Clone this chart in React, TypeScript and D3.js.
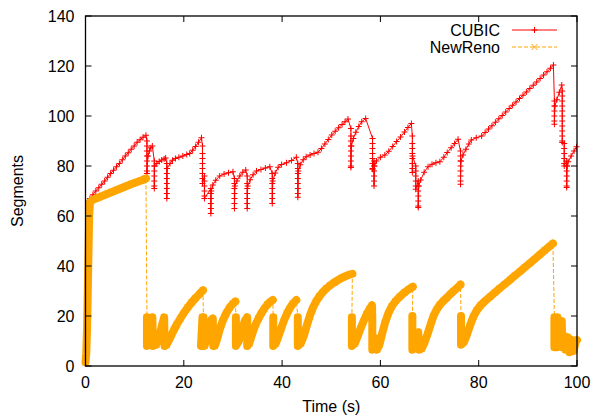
import React from 'react';
import * as d3 from 'd3';

const xTicks = [0, 20, 40, 60, 80, 100];
const yTicks = [0, 20, 40, 60, 80, 100, 120, 140];
const seriesNames = ['CUBIC', 'NewReno'];
const xLabel = 'Time (s)';
const yLabel = 'Segments';

// CUBIC congestion window samples [time (s), segments]
const cubicPoints: [number, number][] = [
  [0, 1], [0.1, 2], [0.2, 4], [0.3, 8], [0.4, 16], [0.5, 30], [0.6, 45], [0.7, 58], [0.8, 66],
  [0.9, 67], [1.5, 68.5], [2.1, 70], [2.7, 71.3], [3.3, 72.7], [3.9, 74], [4.5, 75.5], [5.1, 77],
  [5.7, 78.3], [6.3, 79.7], [6.9, 81], [7.5, 82.5], [8.1, 84], [8.7, 85.3], [9.3, 86.7], [9.9, 88],
  [10.5, 89.5], [11.1, 90.5], [11.7, 91.5], [12.3, 92.3],
  [12.5, 90], [12.5, 88], [12.5, 86], [12.5, 84], [12.5, 82], [12.5, 80], [12.5, 78], [12.5, 77],
  [12.7, 84], [13.0, 86], [13.3, 87.3], [13.6, 88],
  [14.0, 82], [14.0, 80], [14.0, 78], [14.0, 76], [14.0, 74], [14.0, 72], [14.0, 71], [14.05, 80],
  [14.5, 81], [15.0, 81.8], [15.5, 82.4], [16.0, 82.8], [16.3, 83.2],
  [16.55, 81], [16.55, 79], [16.55, 77], [16.55, 75], [16.55, 73], [16.55, 71], [16.55, 69], [16.55, 67], [16.6, 79],
  [17.2, 81], [17.7, 82.3], [18.3, 83], [19, 83.5], [19.8, 84], [20.6, 84.6], [21.2, 85], [21.8, 86.3],
  [22.4, 87.8], [23, 89.5], [23.6, 91.3],
  [23.8, 88], [23.8, 85], [23.8, 83], [23.8, 81], [23.8, 79], [23.8, 77], [23.8, 75], [23.8, 73],
  [24.2, 76], [24.2, 74], [24.2, 72], [24.2, 70], [24.2, 68], [24.2, 67],
  [25.5, 71], [25.5, 69], [25.5, 67], [25.5, 65], [25.5, 63], [25.5, 61], [25.6, 70],
  [25.9, 72.4], [26.5, 74.3], [27.3, 76], [28.2, 76.8], [29.1, 77.3], [30.0, 77.7],
  [30.3, 75], [30.3, 73], [30.3, 71], [30.3, 69], [30.3, 67], [30.3, 65], [30.3, 63], [30.4, 72],
  [30.8, 74], [31.4, 76], [32, 77.5], [32.6, 78.4],
  [32.9, 76], [32.9, 73], [32.9, 71], [32.9, 69], [32.9, 67], [32.9, 65], [32.9, 63], [33.0, 72],
  [33.5, 74.5], [34.1, 76.5], [34.8, 78], [35.7, 78.6], [36.6, 79.2], [37.5, 79.7],
  [38, 77], [38, 75], [38, 73], [38, 71], [38, 69], [38, 67], [38, 65], [38.1, 74],
  [38.6, 77.2], [39.2, 79.5], [39.9, 80.6], [40.9, 81.3], [41.9, 82.2], [42.9, 83.5],
  [43.2, 81], [43.2, 79], [43.2, 77], [43.2, 75], [43.2, 73], [43.2, 71], [43.2, 69], [43.2, 67.5], [43.3, 78],
  [43.7, 80.5], [44.3, 82.5], [44.9, 83.7], [45.7, 84.4], [46.5, 85], [47.3, 85.5], [48.0, 87], [48.7, 88.8],
  [49.4, 90.6], [50.1, 92.4], [50.8, 93.9], [51.5, 95.3], [52.2, 96.6], [52.8, 97.7], [53.4, 98.8],
  [54, 95], [54, 92], [54, 90], [54, 88], [54, 86], [54, 84], [54, 82], [54, 80], [54, 79.4], [54.1, 88],
  [54.5, 91], [55, 93.5], [55.6, 95.8], [56.2, 97.7], [57, 99],
  [58.4, 91], [58.4, 89], [58.4, 87], [58.4, 85], [58.4, 83], [58.4, 81], [58.4, 79], [58.4, 78.7],
  [58.7, 82], [58.7, 80], [58.7, 78], [58.7, 76], [58.7, 74], [58.7, 72], [58.8, 80],
  [59.2, 82], [60, 83.5], [60.9, 84.4], [61.7, 85.9], [62.5, 87.8], [63.3, 89.8], [64.1, 91.6], [64.9, 93.6],
  [65.6, 95.4], [66.3, 97],
  [66.5, 92], [66.5, 89], [66.5, 87], [66.5, 85], [66.5, 83], [66.5, 81], [66.5, 79], [66.5, 77.4], [66.55, 84],
  [67.2, 80], [67.2, 78], [67.2, 76], [67.2, 74], [67.2, 72], [67.2, 70.7],
  [67.7, 74], [67.7, 72], [67.7, 70], [67.7, 68], [67.7, 66], [67.7, 64], [67.7, 63.4], [67.8, 72],
  [68.2, 74.4], [68.9, 77.5], [69.7, 79.7], [70.5, 80.7], [71.3, 81.3], [72.1, 81.7], [72.9, 83.5],
  [73.6, 85.4], [74.4, 87.3], [75.1, 89], [75.8, 90.7],
  [76.3, 86], [76.3, 84], [76.3, 82], [76.3, 80], [76.3, 78], [76.3, 76], [76.3, 74], [76.3, 72.7], [76.4, 82],
  [76.8, 84.4], [77.4, 86.7], [78, 88.8], [78.5, 90.4], [79.5, 91.3], [80.6, 92], [81.3, 93.4], [82, 94.8],
  [82.7, 96.1], [83.4, 97.5], [84.1, 98.9], [84.8, 100.2], [85.5, 101.6], [86.2, 103], [86.9, 104.3],
  [87.6, 105.6], [88.3, 107], [89, 108.3], [89.7, 109.6], [90.4, 111], [91.1, 112.3], [91.8, 113.6],
  [92.5, 115], [93.2, 116.4], [93.9, 117.7], [94.6, 119.1], [95.2, 120.4],
  [95.4, 106], [95.4, 104], [95.4, 102], [95.4, 100], [95.4, 98], [95.4, 96.7], [95.5, 104],
  [95.9, 106.5], [96.4, 109.5], [96.9, 112.4],
  [97.0, 110], [97.0, 108], [97.0, 106], [97.0, 104], [97.0, 102], [97.0, 100], [97.0, 98], [97.0, 96],
  [97.0, 94], [97.0, 92], [97.0, 90], [97.0, 89.4],
  [97.4, 89], [97.4, 87], [97.4, 85], [97.4, 83], [97.4, 81], [97.4, 80],
  [97.9, 82], [97.9, 80], [97.9, 78], [97.9, 76], [97.9, 74], [97.9, 72], [97.9, 71.4], [98.0, 80],
  [98.2, 81.7], [98.8, 84], [99.4, 86], [99.9, 87.7],
];

// NewReno congestion window samples, grouped into dense runs [time (s), segments]
const newRenoSegments: [number, number][][] = [
  [
    [0, 1.5], [0.15, 5], [0.3, 14], [0.45, 28], [0.6, 45], [0.75, 60], [0.9, 65.5], [1.5, 66.5],
    [2.5, 67.3], [3.5, 68.1], [4.5, 68.9], [5.5, 69.7], [6.5, 70.5], [7.5, 71.3], [8.5, 72.1],
    [9.5, 72.9], [10.5, 73.6], [11.5, 74.3], [12.3, 75],
  ],
  [
    [12.5, 19.5], [12.5, 8], [12.9, 11], [13.3, 16], [13.6, 19.5], [13.7, 8], [14.4, 8.5],
    [15.0, 12], [15.6, 16.5], [16.0, 19.5], [16.1, 8], [16.5, 8.5], [16.9, 10], [17.4, 12],
    [18, 14.5], [18.6, 16.7], [19.3, 19], [20, 21.2], [20.8, 23.4], [21.6, 25.4], [22.4, 27.2],
    [23.2, 28.8], [23.9, 30.3],
  ],
  [
    [24.0, 19.5], [23.5, 8], [23.8, 19.5], [24.2, 8], [24.9, 12.5], [25.6, 18.5], [25.9, 19],
    [26.0, 8], [26.3, 8], [26.8, 11], [27.3, 14.5], [27.9, 18], [28.6, 21], [29.3, 23.3],
    [30.0, 25], [30.5, 25.8],
  ],
  [
    [30.6, 19.5], [30.6, 8], [31.2, 10], [31.8, 14], [32.4, 18], [32.9, 19.5], [32.9, 8],
    [33.3, 9], [33.7, 11.5], [34.2, 14.5], [34.7, 17], [35.2, 19], [35.8, 21.2], [36.4, 23],
    [37.0, 24.6], [37.6, 25.7], [38.1, 26.4],
  ],
  [
    [38.2, 19.5], [38.2, 8], [38.7, 9], [39.2, 11.5], [39.8, 15], [40.4, 18.3], [41.0, 21],
    [41.6, 23.2], [42.2, 25], [42.9, 26.4],
  ],
  [
    [43.2, 19.5], [43.2, 8], [43.8, 9], [44.4, 12], [45.0, 16], [45.6, 19.8], [46.2, 23],
    [46.9, 25.8], [47.6, 27.9], [48.3, 29.6], [49.0, 31], [49.8, 32.3], [50.6, 33.4],
    [51.4, 34.4], [52.2, 35.3], [53.0, 36], [53.8, 36.6], [54.3, 36.9],
  ],
  [
    [54.2, 19.5], [54.2, 8], [54.8, 9], [55.4, 12], [56.0, 15.2], [56.6, 18], [57.2, 20.7],
    [57.8, 22.8], [58.3, 24.3], [58.35, 19], [58.35, 6.5], [58.9, 8.5], [59.2, 11], [59.3, 6.5],
    [59.8, 8.5], [60.3, 12.5], [60.9, 17], [61.6, 21], [62.3, 23.8], [63.1, 26], [64.0, 27.8],
    [64.9, 29.4], [65.8, 30.7], [66.6, 31.7],
  ],
  [
    [66.5, 20], [66.5, 6.5], [67.0, 8], [67.4, 11], [67.7, 13.5], [67.9, 6.5], [68.4, 7],
    [69.0, 9.5], [69.6, 12.8], [70.2, 16.5], [70.8, 20], [71.4, 22.4], [72.1, 24.5], [72.8, 26],
    [73.5, 27.3], [74.2, 28.7], [74.9, 30], [75.6, 31.2], [76.3, 32.6],
  ],
  [
    [76.4, 20], [76.4, 8.5], [77.0, 9.5], [77.6, 12.5], [78.2, 16], [78.9, 19.7], [79.6, 22.2],
    [80.4, 24.3], [81.3, 26], [82.3, 27.7], [83.3, 29.4], [84.3, 31.1], [85.3, 32.7], [86.4, 34.5],
    [87.4, 36.2], [88.4, 37.8], [89.4, 39.5], [90.4, 41.1], [91.4, 42.8], [92.4, 44.5],
    [93.4, 46.2], [94.3, 47.7], [95.1, 49],
  ],
  [
    [95.4, 19.5], [95.4, 7.5], [95.9, 7.5], [96.0, 19.5], [96.3, 8], [96.9, 18], [97.0, 7.5],
    [97.4, 12], [97.7, 6.5], [98.1, 11.5], [98.5, 5.5], [98.9, 10.5], [99.3, 6], [99.7, 9.5],
    [100, 10.4],
  ],
];

export default function App() {
  const W = 594;
  const H = 417;
  const left = 85.5, right = 577, top = 16, bottom = 366;
  const x = d3.scaleLinear().domain([0, 100]).range([left, right]);
  const y = d3.scaleLinear().domain([0, 140]).range([bottom, top]);
  const line = d3.line<[number, number]>().x((d) => x(d[0])).y((d) => y(d[1]));

  const red = '#ff0000';
  const orange = '#ffa500';
  const font = '"Liberation Sans", Arial, Helvetica, sans-serif';
  const fs = 16;

  const plusPath = (cx: number, cy: number, s = 3) =>
    `M${cx - s},${cy}h${2 * s}M${cx},${cy - s}v${2 * s}`;
  const crossPath = (cx: number, cy: number, s = 3) =>
    `M${cx - s},${cy - s}l${2 * s},${2 * s}M${cx - s},${cy + s}l${2 * s},${-2 * s}`;

  const cubicMarkers = cubicPoints.map((d) => plusPath(x(d[0]), y(d[1]))).join('');
  const allNR = newRenoSegments.flat();
  const nrMarkers = allNR.map((d) => crossPath(x(d[0]), y(d[1]))).join('');

  const legendX1 = 512, legendX2 = 557, legendTextX = 500;
  const legendY = [30, 47];

  return (
    <svg
      width={W}
      height={H}
      style={{ position: 'absolute', left: 0, top: 0, background: '#fff' }}
      fontFamily={font}
    >
      <rect x={0} y={0} width={W} height={H} fill="#fff" />
      {/* CUBIC */}
      <path d={line(cubicPoints) || ''} fill="none" stroke={red} strokeWidth={1} />
      <path d={cubicMarkers} fill="none" stroke={red} strokeWidth={1} />
      {/* NewReno */}
      <path d={line(allNR) || ''} fill="none" stroke={orange} strokeWidth={1} strokeDasharray="4,2" />
      {newRenoSegments.map((seg, i) => (
        <path
          key={i}
          d={line(seg) || ''}
          fill="none"
          stroke={orange}
          strokeWidth={8}
          strokeLinejoin="round"
          strokeLinecap="round"
        />
      ))}
      <path d={nrMarkers} fill="none" stroke={orange} strokeWidth={1} />

      {/* frame */}
      <rect x={left} y={top} width={right - left} height={bottom - top} fill="none" stroke="#000" strokeWidth={1.3} />
      {xTicks.map((t) => (
        <g key={'x' + t}>
          <line x1={x(t)} x2={x(t)} y1={bottom} y2={bottom - 6} stroke="#000" strokeWidth={1} />
          <line x1={x(t)} x2={x(t)} y1={top} y2={top + 6} stroke="#000" strokeWidth={1} />
          <text x={x(t)} y={bottom + 22} textAnchor="middle" fontSize={fs} fill="#000">
            {t}
          </text>
        </g>
      ))}
      {yTicks.map((t) => (
        <g key={'y' + t}>
          <line x1={left} x2={left + 6} y1={y(t)} y2={y(t)} stroke="#000" strokeWidth={1} />
          <line x1={right} x2={right - 6} y1={y(t)} y2={y(t)} stroke="#000" strokeWidth={1} />
          <text x={left - 11} y={y(t)} dy="0.35em" textAnchor="end" fontSize={fs} fill="#000">
            {t}
          </text>
        </g>
      ))}
      <text x={(left + right) / 2} y={412} textAnchor="middle" fontSize={fs} fill="#000">
        {xLabel}
      </text>
      <text
        transform={`translate(23,${(top + bottom) / 2}) rotate(-90)`}
        textAnchor="middle"
        fontSize={fs}
        fill="#000"
      >
        {yLabel}
      </text>

      {/* legend */}
      <text x={legendTextX} y={legendY[0]} dy="0.35em" textAnchor="end" fontSize={fs} fill="#000">
        {seriesNames[0]}
      </text>
      <line x1={legendX1} x2={legendX2} y1={legendY[0]} y2={legendY[0]} stroke={red} strokeWidth={1} />
      <path d={plusPath((legendX1 + legendX2) / 2, legendY[0])} stroke={red} strokeWidth={1} fill="none" />
      <text x={legendTextX} y={legendY[1]} dy="0.35em" textAnchor="end" fontSize={fs} fill="#000">
        {seriesNames[1]}
      </text>
      <line
        x1={legendX1}
        x2={legendX2}
        y1={legendY[1]}
        y2={legendY[1]}
        stroke={orange}
        strokeWidth={1}
        strokeDasharray="4,2"
      />
      <path d={crossPath((legendX1 + legendX2) / 2, legendY[1])} stroke={orange} strokeWidth={1} fill="none" />
    </svg>
  );
}
